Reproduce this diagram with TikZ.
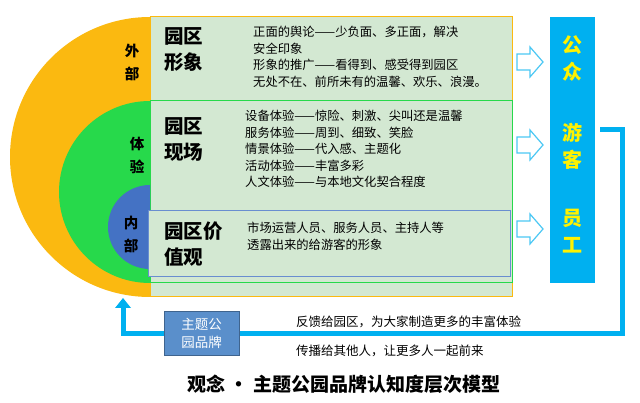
\documentclass[tikz,border=0pt]{standalone}
\usepackage{fontspec}
\setmainfont{Noto Sans CJK SC}
\definecolor{orng}{HTML}{FBB910}
\definecolor{grn}{HTML}{27D94B}
\definecolor{blu}{HTML}{4472C4}
\definecolor{pale}{HTML}{D3E8D2}
\definecolor{cyan1}{HTML}{00B0F0}
\definecolor{brand}{HTML}{5A8FCB}
\tikzset{
 body/.style={font=\fontsize{12.3}{16.5}\selectfont, anchor=north west, align=left, inner sep=0},
 head/.style={font=\fontsize{19.5}{26}\selectfont\bfseries, anchor=north west, align=left, inner sep=0},
 lab/.style={font=\fontsize{14.5}{23}\selectfont\bfseries, align=center, inner sep=0},
 barlab/.style={font=\fontsize{20}{27}\selectfont\bfseries, text=yellow, align=center, inner sep=0},
 harrow/.style={draw=cyan1!70, fill=white, line width=1.2pt, line join=miter},
 fb/.style={draw=cyan1, line width=5pt}
}
\newcommand\hollowarrow[1]{\draw[harrow] (517,#1-8) -- (530,#1-8) -- (530,#1-15) -- (543,#1) -- (530,#1+15) -- (530,#1+8) -- (517,#1+8) -- cycle;}
\begin{document}
\begin{tikzpicture}[x=1pt,y=-1pt]
\useasboundingbox (0,0) rectangle (640,403);
% orange
\fill[orng] (150,17) arc[start angle=270,end angle=90,x radius=140,y radius=140] -- cycle;
\draw[orng, fill=pale, line width=1pt] (150,17) rectangle (512,297);
% green
\fill[grn] (150,101) arc[start angle=270,end angle=90,radius=91] -- cycle;
\draw[grn, fill=pale, line width=1pt] (150,101) rectangle (512,283);
% blue
\fill[blu] (150,185) arc[start angle=270,end angle=90,radius=42] -- cycle;
\draw[blu!80, fill=pale, line width=1pt] (148,211) rectangle (510,277);
% labels
\node[lab] (l1) at (132,62) {外\\部};
\node[lab] (l2) at (137,155) {体\\验};
\node[lab] (l3) at (131,234) {内\\部};
\node[head] (h1) at (164,27) {园区\\形象};
\node[head] (h2) at (164,117) {园区\\现场};
\node[head] (h3) at (164,222) {园区价\\值观};
\node[body] (t1) at (253,26) {正面的舆论——少负面、多正面，解决\\安全印象\\形象的推广——看得到、感受得到园区\\无处不在、前所未有的温馨、欢乐、浪漫。};
\node[body] (t2) at (245,110) {设备体验——惊险、刺激、尖叫还是温馨\\服务体验——周到、细致、笑脸\\情景体验——代入感、主题化\\活动体验——丰富多彩\\人文体验——与本地文化契合程度};
\node[body] (t3) at (247,222) {市场运营人员、服务人员、主持人等\\透露出来的给游客的形象};
% bar
\fill[cyan1] (550,17) rectangle (595,283);
\node[barlab] (b1) at (572,58) {公\\众};
\node[barlab] (b2) at (572,146) {游\\客};
\node[barlab] (b3) at (572,231) {员\\工};
\hollowarrow{62}
\hollowarrow{145}
\hollowarrow{229}
% feedback
\coordinate (s) at (600,130);
\coordinate (e) at (123,300);
\draw[fb] (s) -- (622,130) -- (622,334) -- (123,334) -- (123,306);
\fill[cyan1] (115,308) -- (131,308) -- (123,298) -- cycle;
\node[draw=brand!70!black, fill=brand, text=white, font=\fontsize{13.5}{18}\selectfont, align=center, minimum width=75pt, minimum height=44pt, inner sep=0] (brand) at (201.5,333) {主题公\\园品牌};
\node[anchor=west, font=\fontsize{12.5}{14}\selectfont, inner sep=0] (f1) at (296,322) {反馈给园区，为大家制造更多的丰富体验};
\node[anchor=west, font=\fontsize{12.5}{14}\selectfont, inner sep=0] (f2) at (296,351) {传播给其他人，让更多人一起前来};
\node[font=\fontsize{19}{22}\selectfont\bfseries, inner sep=0] (title) at (344,384) {观念 • 主题公园品牌认知度层次模型};
\end{tikzpicture}
\end{document}
